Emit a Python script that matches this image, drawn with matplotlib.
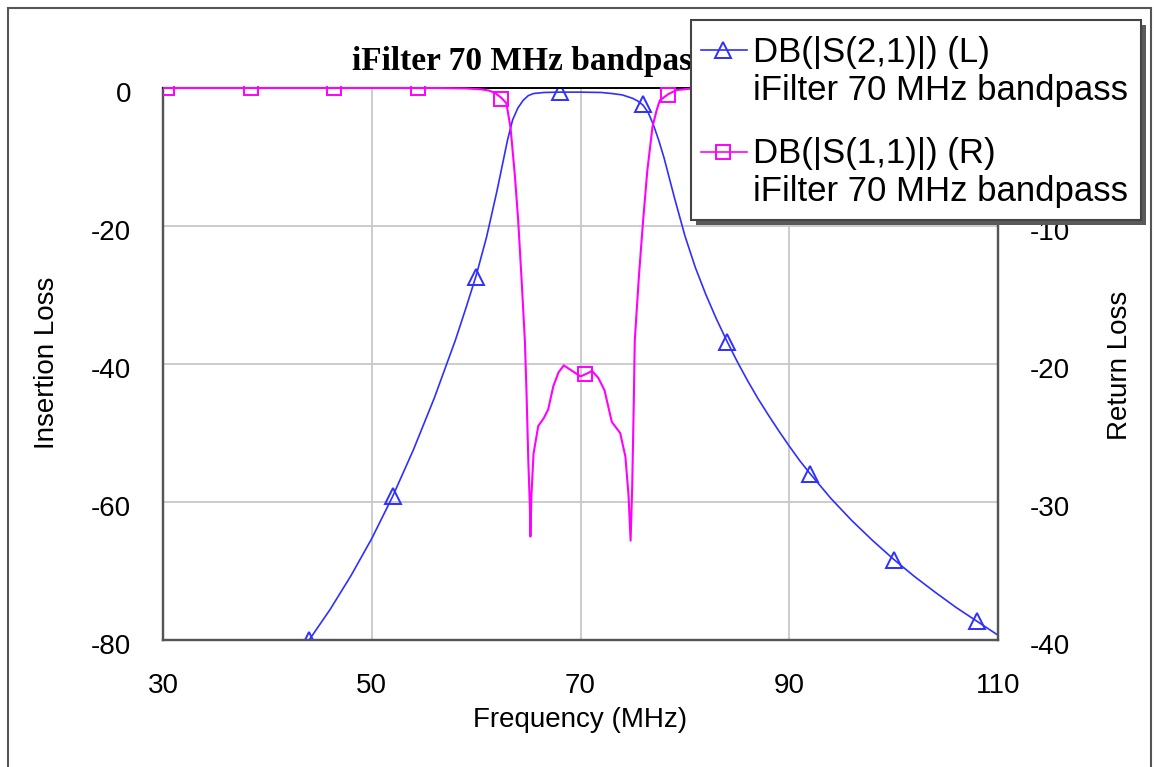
import matplotlib
matplotlib.use('Agg')
import matplotlib.pyplot as plt
from matplotlib.patches import Rectangle
from matplotlib.lines import Line2D
from matplotlib.transforms import ScaledTranslation

# ---------------- data ----------------
x_ticks = [30, 50, 70, 90, 110]
left_ticks = [0, -20, -40, -60, -80]
right_ticks = [0, -10, -20, -30, -40]

s21_freq = [43.6, 44, 46, 48, 50, 52, 54, 56, 58, 59, 60, 61, 62, 63, 63.5, 64, 64.5,
            65, 65.5, 66.5, 68, 70, 72, 73, 74, 75, 75.5, 76, 76.5, 77, 77.5, 78, 79,
            80, 81, 82, 83, 84, 85, 86, 87, 88, 89, 90, 91, 92, 94, 96, 98, 100, 102,
            104, 106, 108, 110]
s21_db = [-81, -80, -75.6, -70.7, -65.3, -59.2, -52.4, -44.9, -36.6, -32.0, -27.2, -21.6,
          -14.9, -7.6, -4.6, -2.9, -1.8, -1.1, -0.8, -0.65, -0.6, -0.6, -0.65, -0.8, -1.0,
          -1.5, -1.9, -2.5, -3.6, -5.4, -7.6, -10.1, -15.9, -21.4, -26.0, -29.9, -33.4,
          -36.6, -39.6, -42.4, -45.0, -47.4, -49.7, -51.9, -54.0, -55.9, -59.5, -62.7,
          -65.6, -68.3, -70.8, -73.1, -75.3, -77.3, -79.3]
s21_mk_freq = [44, 52, 60, 68, 76, 84, 92, 100, 108]
s21_mk_db = [-80, -59.2, -27.4, -0.65, -2.3, -36.8, -55.9, -68.4, -77.3]

s11_freq = [30, 56, 59, 60.5, 61.2, 61.8, 62.4, 62.9, 63.3, 63.72, 64.03, 64.35, 64.67,
            64.83, 65.0, 65.15, 65.2, 65.3, 65.5, 65.95, 66.5, 66.9, 67.4, 67.9, 68.4,
            69.2, 70.0, 70.6, 71.1, 71.7, 72.3, 73.0, 73.8, 74.3, 74.6, 74.8, 74.95,
            75.1, 75.2, 75.6, 76.0, 76.4, 76.9, 77.3, 77.6, 78.4, 79.2, 80.5, 82, 110]
s11_db = [0, 0, -0.03, -0.1, -0.18, -0.35, -0.7, -1.1, -2.9, -6.4, -9.6, -13.8, -18.3,
          -22.1, -27, -30.3, -32.5, -29.5, -26.5, -24.5, -23.9, -23.3, -21.6, -20.6, -20.1,
          -20.5, -20.9, -20.7, -20.5, -21.0, -21.9, -24.2, -25.0, -26.7, -29.5, -32.8, -29,
          -23, -18.3, -13.6, -9.6, -6.0, -2.8, -1.6, -0.9, -0.45, -0.15, -0.05, 0, 0]
s11_mk_freq = [30.4, 38.4, 46.4, 54.4, 62.4, 70.4, 78.4, 86.4, 94.4, 102.4]
s11_mk_db = [0, 0, 0, 0, -0.8, -20.7, -0.5, 0, 0, 0]

title = "iFilter 70 MHz bandpass"
legend_lines = ["DB(|S(2,1)|) (L)", "iFilter 70 MHz bandpass",
                "DB(|S(1,1)|) (R)", "iFilter 70 MHz bandpass"]

# ---------------- styles ----------------
BLUE = '#2f2fff'
MAG = '#ff00ff'
plt.rcParams['font.family'] = ['Liberation Sans', 'DejaVu Sans']

W, H = 1154, 767
fig = plt.figure(figsize=(W / 100, H / 100), dpi=100)


def fx(p):
    return p / W


def fy(p):
    return 1 - p / H


ax = fig.add_axes([fx(163), fy(640), fx(998) - fx(163), fy(88) - fy(640)])
ax2 = ax.twinx()

ax.set_xlim(30, 110)
ax.set_ylim(-80, 0)
ax2.set_ylim(-40, 0)
ax.set_xticks(x_ticks)
ax.set_xticklabels([str(v) for v in x_ticks])
ax.set_yticks(left_ticks)
ax.set_yticklabels([str(v) for v in left_ticks])
ax2.set_yticks(right_ticks)
ax2.set_yticklabels([str(v) for v in right_ticks])

ax.tick_params(axis='both', length=0, labelsize=20, colors='black')
ax.tick_params(axis='y', pad=23)
ax.tick_params(axis='x', pad=24)
ax2.tick_params(axis='y', length=0, labelsize=20, pad=23)

shift = ScaledTranslation(0, -3 / 72, fig.dpi_scale_trans)
for lab in ax.get_yticklabels() + ax2.get_yticklabels():
    lab.set_transform(lab.get_transform() + shift)

ax.grid(True, color='#c8c8c8', lw=1.3)
ax.set_axisbelow(True)

for a in (ax, ax2):
    for s in ('left', 'bottom', 'right'):
        a.spines[s].set_color('#555555')
        a.spines[s].set_linewidth(1.6)
    a.spines['top'].set_color('black')
    a.spines['top'].set_linewidth(1.2)

# S21 on left axis
ax.plot(s21_freq, s21_db, color=BLUE, lw=1.2, zorder=3)
ax.plot(s21_mk_freq, s21_mk_db, ls='none', marker='^', ms=12, mfc='none',
        mec=BLUE, mew=1.4, zorder=3)

# S11 on right axis (clip slightly above the top edge)
clip = Rectangle((0, -0.01), 1, 1.014, transform=ax2.transAxes, visible=False)
ax2.add_patch(clip)
l1, = ax2.plot(s11_freq, s11_db, color=MAG, lw=1.5, zorder=4)
l2, = ax2.plot(s11_mk_freq, s11_mk_db, ls='none', marker='s', ms=9.5, mfc='none',
               mec=MAG, mew=1.4, zorder=4)
l1.set_clip_path(clip)
l2.set_clip_path(clip)

# axis labels and title
fig.text(fx(580), fy(720), "Frequency (MHz)", ha='center', va='center', fontsize=20)
fig.text(fx(47), fy(363), "Insertion Loss", ha='center', va='center', rotation=90, fontsize=20)
fig.text(fx(1120), fy(365), "Return Loss", ha='center', va='center', rotation=90, fontsize=20)
fig.text(fx(352), fy(70), title, ha='left', va='baseline', fontsize=24,
         family=['Liberation Serif', 'DejaVu Serif'], fontweight='bold', zorder=3)

# outer frame
fig.patches.append(Rectangle((fx(8), fy(800)), fx(1151) - fx(8), fy(8) - fy(800),
                             transform=fig.transFigure, fill=False, edgecolor='#555555',
                             lw=1.5, zorder=1))

# legend (manual)
lx0, ly0, lx1, ly1 = 691, 20, 1141, 220
fig.patches.append(Rectangle((fx(lx0 + 5), fy(ly1 + 5)), fx(lx1) - fx(lx0), fy(ly0) - fy(ly1),
                             transform=fig.transFigure, facecolor='#5a5a5a',
                             edgecolor='none', zorder=10))
fig.patches.append(Rectangle((fx(lx0), fy(ly1)), fx(lx1) - fx(lx0), fy(ly0) - fy(ly1),
                             transform=fig.transFigure, facecolor='white',
                             edgecolor='#444444', lw=1.5, zorder=11))
for yc, col, mk, ms in ((50, BLUE, '^', 12), (152, MAG, 's', 9.5)):
    fig.lines.append(Line2D([fx(701), fx(747)], [fy(yc), fy(yc)], color=col, lw=1.2,
                            transform=fig.transFigure, zorder=12))
    fig.lines.append(Line2D([fx(723)], [fy(yc)], ls='none', marker=mk, ms=ms, mfc='none',
                            mec=col, mew=1.4, transform=fig.transFigure, zorder=12))
for txt, yb in zip(legend_lines, (62, 100, 163, 201)):
    fig.text(fx(753), fy(yb), txt, ha='left', va='baseline', fontsize=25, zorder=13)

fig.savefig('out.png', dpi=100)
